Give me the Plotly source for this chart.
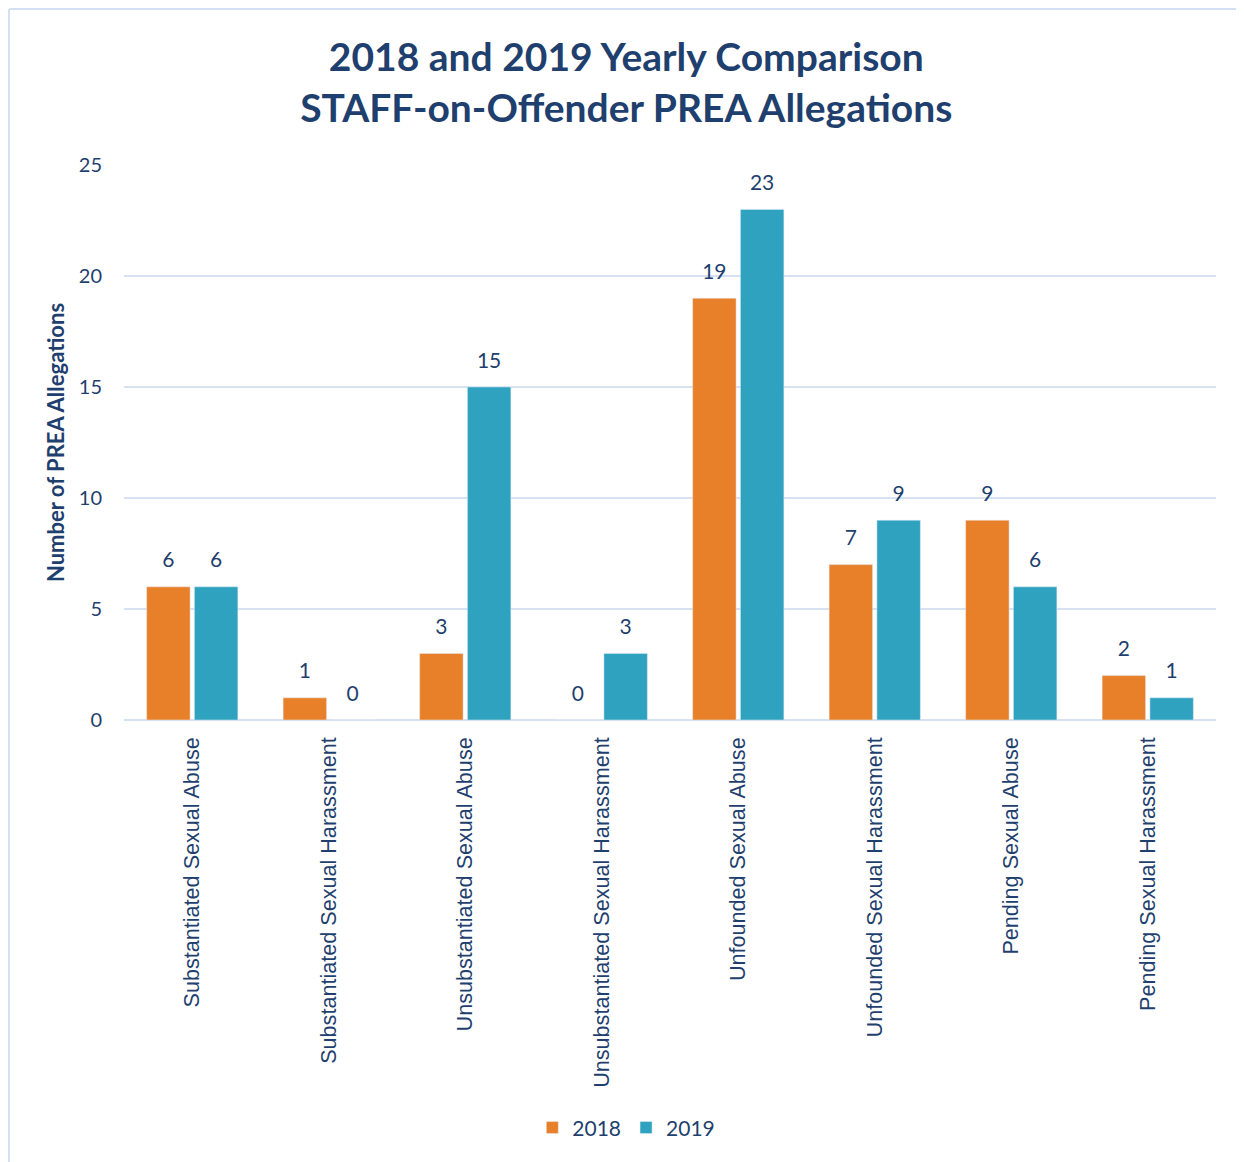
import plotly.graph_objects as go

categories = ["Substantiated Sexual Abuse", "Substantiated Sexual Harassment",
              "Unsubstantiated Sexual Abuse", "Unsubstantiated Sexual Harassment",
              "Unfounded Sexual Abuse", "Unfounded Sexual Harassment",
              "Pending Sexual Abuse", "Pending Sexual Harassment"]
values_2018 = [6, 1, 3, 0, 19, 7, 9, 2]
values_2019 = [6, 0, 15, 3, 23, 9, 6, 1]
y_ticks = [0, 5, 10, 15, 20, 25]

TXT = "#1F3F6E"
GRID = "#D6E1F1"

fig = go.Figure()
for name, vals, col in [("2018", values_2018, "#E8802A"), ("2019", values_2019, "#2FA2C0")]:
    fig.add_trace(go.Bar(name=name, x=categories, y=vals, marker=dict(color=col),
                         offsetgroup=name, alignmentgroup="g"))
for name, vals in [("2018", values_2018), ("2019", values_2019)]:
    fig.add_trace(go.Scatter(x=categories, y=vals, mode="markers+text", text=vals,
                             textposition="top center", showlegend=False, hoverinfo="skip",
                             offsetgroup=name, alignmentgroup="g", cliponaxis=False,
                             marker=dict(size=21, opacity=0),
                             textfont=dict(family="Lato", size=21, color=TXT)))

fig.update_layout(
    width=1244, height=1162,
    paper_bgcolor="white", plot_bgcolor="white",
    margin=dict(l=116, r=36, t=157, b=450),
    barmode="group", bargap=0.30, bargroupgap=0.09,
    scattermode="group", scattergap=0.30,
    title=dict(text="2018 and 2019 Yearly Comparison<br>STAFF-on-Offender PREA Allegations",
               x=0.497, xanchor="center", y=0.9455, yanchor="middle",
               font=dict(family="Lato", size=39, color=TXT, weight="bold")),
    legend=dict(orientation="h", x=0.46, xanchor="center", y=-0.735, yanchor="middle",
                font=dict(family="Lato", size=21, color=TXT), itemwidth=30,
                traceorder="normal"),
    xaxis=dict(tickangle=-90, showgrid=False, showline=False, ticks="",
               tickfont=dict(family="Liberation Sans", size=21.6, color=TXT),
               ticklabelstandoff=12),
    yaxis=dict(range=[0, 25], tickvals=y_ticks, showgrid=True, gridcolor=GRID, gridwidth=1.5,
               zeroline=True, zerolinecolor=GRID, zerolinewidth=1.5, showline=False, ticks="",
               tickfont=dict(family="Lato", size=20, color=TXT), ticklabelstandoff=21,
               title=dict(text="Number of PREA Allegations", standoff=8,
                          font=dict(family="Lato", size=22, color=TXT, weight="bold"))),
    shapes=[
        dict(type="line", xref="paper", yref="paper", x0=-0.1053, x1=-0.1053, y0=-0.82, y1=1.281,
             line=dict(color="#D3E0F2", width=2)),
        dict(type="line", xref="paper", yref="paper", x0=-0.1053, x1=1.05, y0=1.281, y1=1.281,
             line=dict(color="#D3E0F2", width=2)),
    ],
)

fig.write_html("out.html")
